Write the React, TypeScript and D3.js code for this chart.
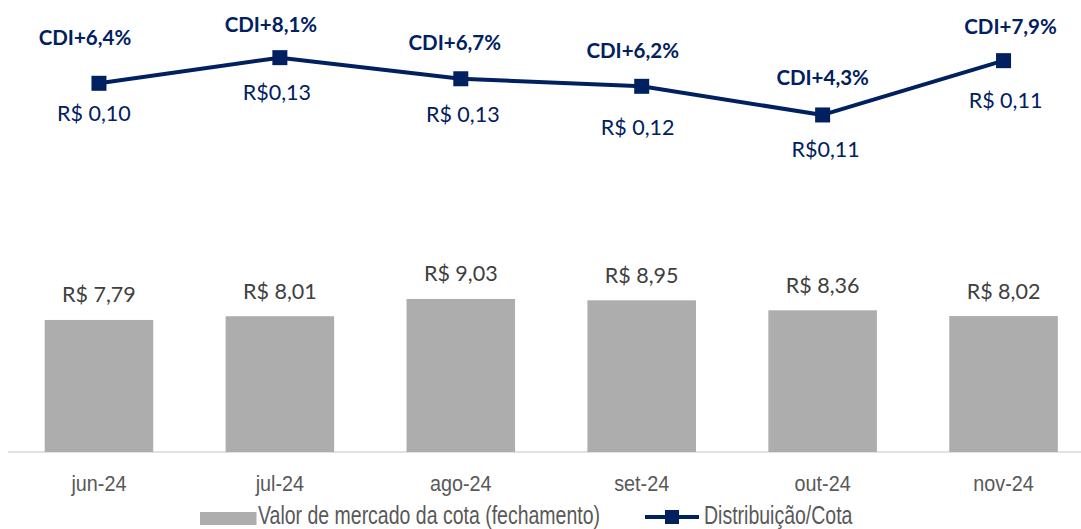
import React, { useEffect, useRef } from "react";
import * as d3 from "d3";

// chart data
const months = ["jun-24", "jul-24", "ago-24", "set-24", "out-24", "nov-24"];
const marketValue = [7.79, 8.01, 9.03, 8.95, 8.36, 8.02];
const cdiSpread = [6.4, 8.1, 6.7, 6.2, 4.3, 7.9];
const distributionLabels = ["R$ 0,10", "R$0,13", "R$ 0,13", "R$ 0,12", "R$0,11", "R$ 0,11"];

// manual label nudges (the original labels were hand placed)
const cdiNudge = [
  [-14, -38],
  [-9, -26],
  [-6, -29],
  [-9, -28],
  [0, -30],
  [7, -27],
];
const distNudge = [
  [-5, 38],
  [-3, 42],
  [2, 43],
  [-4, 49],
  [3, 42],
  [2, 47],
];

const WIDTH = 1081;
const HEIGHT = 529;
const NAVY = "#002060";
const BAR_GRAY = "#adadad";
const LABEL_FONT = "Lato, 'Open Sans', sans-serif";
const AXIS_FONT = "'Liberation Sans', Arial, sans-serif";

const App = () => {
  const svgRef = useRef<SVGSVGElement>(null);

  useEffect(() => {
    const svg = d3.select(svgRef.current);
    svg.selectAll("*").remove();

    const x = d3
      .scaleBand<string>()
      .domain(months)
      .range([8.5, 1094])
      .paddingInner(0.4)
      .paddingOuter(0.2);

    // primary axis for the bars
    const yBar = d3.scaleLinear().domain([0, 10]).range([452, 282.5]);
    // secondary axis for the line
    const yLine = d3.scaleLinear().domain([0, 10]).range([179.8, 29]);

    const cx = (i: number) => (x(months[i]) as number) + x.bandwidth() / 2;

    // baseline
    svg
      .append("line")
      .attr("x1", 8)
      .attr("x2", WIDTH)
      .attr("y1", yBar(0))
      .attr("y2", yBar(0))
      .attr("stroke", "#d9d9d9")
      .attr("stroke-width", 1.5);

    // bars
    svg
      .selectAll(".bar")
      .data(marketValue)
      .enter()
      .append("rect")
      .attr("class", "bar")
      .attr("x", (d, i) => x(months[i]) as number)
      .attr("y", (d) => yBar(d))
      .attr("width", x.bandwidth())
      .attr("height", (d) => yBar(0) - yBar(d))
      .attr("fill", BAR_GRAY);

    // bar labels
    svg
      .selectAll(".bar-label")
      .data(marketValue)
      .enter()
      .append("text")
      .attr("class", "bar-label")
      .attr("x", (d, i) => cx(i))
      .attr("y", (d) => yBar(d) - 17.5)
      .attr("text-anchor", "middle")
      .style("font-family", LABEL_FONT)
      .style("font-size", "21.5px")
      .style("fill", "#404040")
      .text((d) => "R$ " + d3.format(".2f")(d).replace(".", ","));

    // x axis labels (condensed like the original)
    svg
      .selectAll(".x-label")
      .data(months)
      .enter()
      .append("text")
      .attr("class", "x-label")
      .attr("transform", (d, i) => `translate(${cx(i)}, 490.5) scale(0.9, 1)`)
      .attr("text-anchor", "middle")
      .style("font-family", AXIS_FONT)
      .style("font-size", "22px")
      .style("fill", "#595959")
      .text((d) => d);

    // line
    const line = d3
      .line<number>()
      .x((d, i) => cx(i))
      .y((d) => yLine(d));

    svg
      .append("path")
      .datum(cdiSpread)
      .attr("d", line)
      .attr("fill", "none")
      .attr("stroke", NAVY)
      .attr("stroke-width", 4)
      .attr("stroke-linejoin", "round");

    svg
      .selectAll(".marker")
      .data(cdiSpread)
      .enter()
      .append("rect")
      .attr("class", "marker")
      .attr("x", (d, i) => cx(i) - 7.5)
      .attr("y", (d) => yLine(d) - 7.5)
      .attr("width", 15)
      .attr("height", 15)
      .attr("fill", NAVY);

    // CDI labels above the markers
    svg
      .selectAll(".cdi-label")
      .data(cdiSpread)
      .enter()
      .append("text")
      .attr("class", "cdi-label")
      .attr("x", (d, i) => cx(i) + cdiNudge[i][0])
      .attr("y", (d, i) => yLine(d) + cdiNudge[i][1])
      .attr("text-anchor", "middle")
      .style("font-family", LABEL_FONT)
      .style("font-size", "20.5px")
      .style("font-weight", "bold")
      .style("fill", NAVY)
      .text((d) => "CDI+" + d3.format(".1f")(d).replace(".", ",") + "%");

    // distribution per share labels below the markers
    svg
      .selectAll(".dist-label")
      .data(cdiSpread)
      .enter()
      .append("text")
      .attr("class", "dist-label")
      .attr("x", (d, i) => cx(i) + distNudge[i][0])
      .attr("y", (d, i) => yLine(d) + distNudge[i][1])
      .attr("text-anchor", "middle")
      .style("font-family", LABEL_FONT)
      .style("font-size", "21.5px")
      .style("fill", NAVY)
      .text((d, i) => distributionLabels[i]);

    // legend
    const legend = svg.append("g").classed("legend", true);

    legend
      .append("rect")
      .attr("x", 200)
      .attr("y", 512)
      .attr("width", 56.5)
      .attr("height", 13)
      .attr("fill", BAR_GRAY);

    legend
      .append("text")
      .attr("transform", "translate(258, 523.5) scale(0.75, 1)")
      .style("font-family", AXIS_FONT)
      .style("font-size", "26px")
      .style("fill", "#595959")
      .text("Valor de mercado da cota (fechamento)");

    legend
      .append("line")
      .attr("x1", 645)
      .attr("x2", 699)
      .attr("y1", 517)
      .attr("y2", 517)
      .attr("stroke", NAVY)
      .attr("stroke-width", 4);

    legend
      .append("rect")
      .attr("x", 665)
      .attr("y", 510)
      .attr("width", 14)
      .attr("height", 14)
      .attr("fill", NAVY);

    legend
      .append("text")
      .attr("transform", "translate(704, 523.5) scale(0.75, 1)")
      .style("font-family", AXIS_FONT)
      .style("font-size", "26px")
      .style("fill", "#595959")
      .text("Distribuição/Cota");
  }, []);

  return (
    <div style={{ position: "absolute", left: 0, top: 0 }}>
      <svg ref={svgRef} width={WIDTH} height={HEIGHT} style={{ display: "block", background: "#fff" }}></svg>
    </div>
  );
};

export default App;
